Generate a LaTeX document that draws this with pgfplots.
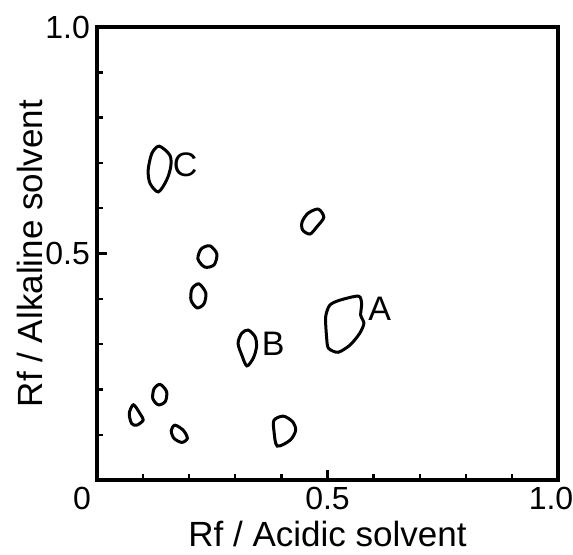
\documentclass[border=0pt]{standalone}
\usepackage{fontspec}
\setmainfont{Liberation Sans}
\usepackage{pgfplots}
\pgfplotsset{compat=1.18}

\begin{document}
\begin{tikzpicture}
\path[use as bounding box] (-48.5pt,-37pt) rectangle ++(286.5pt,277pt);
\begin{axis}[
    scale only axis,
    width=230.5pt, height=226.5pt,
    xmin=0, xmax=1, ymin=0, ymax=1,
    axis line style={line width=2.2pt},
    tick pos=left,
    tick align=inside,
    xtick={0,0.5,1}, ytick={0,0.5,1},
    xticklabels={\makebox[0pt][r]{0\kern3pt},0.5,{\kern-7pt1.0}},
    yticklabels={,0.5,1.0},
    minor xtick={0.1,0.2,0.3,0.4,0.6,0.7,0.8,0.9},
    minor ytick={0.1,0.2,0.3,0.4,0.6,0.7,0.8,0.9},
    major tick length=5pt, minor tick length=3pt,
    every tick/.style={black, line width=1.2pt},
    ticklabel style={font=\fontsize{16}{16}\selectfont},
    /pgf/number format/assume math mode=true,
    xlabel={Rf / Acidic solvent},
    ylabel={Rf / Alkaline solvent},
    every axis x label/.style={at={(axis description cs:0.5,-0.147)}, anchor=base,
        inner sep=1pt, font=\fontsize{17.5}{17.5}\selectfont},
    every axis y label/.style={at={(axis description cs:-0.119,0.5)}, rotate=90, anchor=base,
        inner sep=1pt, font=\fontsize{17.5}{17.5}\selectfont},
    clip=false,
]
% spot C
\addplot[black, line width=1.5pt, smooth cycle] coordinates {
    (0.135,0.737)(0.158,0.717)(0.160,0.692)(0.151,0.662)(0.133,0.636)(0.115,0.655)(0.111,0.684)(0.119,0.721)};
% spot near (0.47,0.57)
\addplot[black, line width=1.5pt, smooth cycle] coordinates {
    (0.480,0.598)(0.492,0.580)(0.477,0.559)(0.462,0.543)(0.446,0.552)(0.445,0.570)(0.458,0.589)};
% small round spot
\addplot[black, line width=1.5pt, smooth cycle] coordinates {
    (0.245,0.517)(0.260,0.499)(0.254,0.475)(0.234,0.470)(0.219,0.488)(0.226,0.510)};
% small oval spot
\addplot[black, line width=1.5pt, smooth cycle] coordinates {
    (0.221,0.433)(0.236,0.413)(0.232,0.389)(0.217,0.380)(0.204,0.397)(0.206,0.422)};
% spot A
\addplot[black, line width=1.5pt, smooth cycle, tension=0.45] coordinates {
    (0.505,0.386)(0.527,0.397)(0.567,0.406)(0.574,0.390)(0.572,0.364)(0.579,0.346)
    (0.570,0.324)(0.549,0.298)(0.523,0.282)(0.502,0.291)(0.498,0.316)(0.496,0.360)};
% spot B
\addplot[black, line width=1.5pt, smooth cycle] coordinates {
    (0.328,0.331)(0.343,0.316)(0.346,0.294)(0.339,0.269)(0.325,0.252)(0.314,0.276)(0.306,0.302)(0.314,0.324)};
% lower left spots
\addplot[black, line width=1.5pt, smooth cycle] coordinates {
    (0.079,0.166)(0.093,0.147)(0.100,0.132)(0.086,0.121)(0.075,0.125)(0.070,0.147)};
\addplot[black, line width=1.5pt, smooth cycle] coordinates {
    (0.137,0.211)(0.151,0.195)(0.148,0.173)(0.133,0.166)(0.121,0.180)(0.124,0.202)};
\addplot[black, line width=1.5pt, smooth cycle] coordinates {
    (0.169,0.121)(0.187,0.110)(0.196,0.092)(0.184,0.083)(0.167,0.092)(0.161,0.109)};
% D-shaped spot
\addplot[black, line width=1.5pt, smooth cycle] coordinates {
    (0.384,0.132)(0.404,0.141)(0.424,0.129)(0.431,0.110)(0.419,0.088)(0.391,0.075)(0.384,0.107)};

\node[font=\fontsize{17}{17}\selectfont] at (axis cs:0.191,0.695) {C};
\node[font=\fontsize{17}{17}\selectfont] at (axis cs:0.613,0.377) {A};
\node[font=\fontsize{17}{17}\selectfont] at (axis cs:0.382,0.300) {B};
\end{axis}
\end{tikzpicture}
\end{document}
